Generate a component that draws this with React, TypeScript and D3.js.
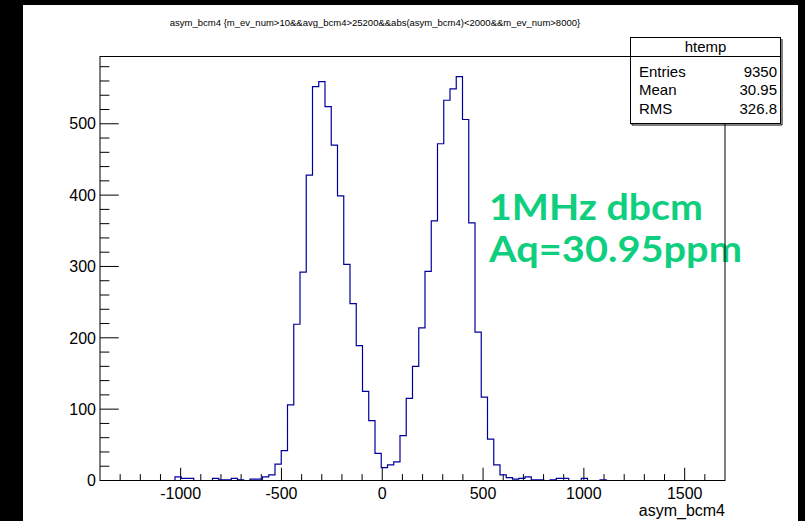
import React from "react";
import * as d3 from "d3";

const binLow = -1400;
const binHigh = 1700;
const counts: number[] = [
  0, 0, 0, 0, 0, 0, 0, 0, 0, 0,
  0, 0, 5, 3, 3, 0, 0, 0, 3, 1,
  1, 3, 1, 0, 2, 2, 5, 8, 23, 42,
  106, 219, 292, 428, 552, 559, 524, 470, 399, 303,
  248, 189, 125, 84, 38, 18, 22, 26, 63, 115,
  160, 214, 293, 364, 472, 533, 549, 566, 506, 361,
  208, 117, 58, 22, 8, 4, 2, 3, 5, 1,
  1, 0, 1, 3, 3, 0, 0, 3, 0, 0,
  1, 0, 0, 0, 0, 0, 0, 0, 0, 0,
  0, 0, 0, 0, 0, 0, 0, 0, 0, 0,
];
const xMajorTicks = [-1000, -500, 0, 500, 1000, 1500];
const yMajorTicks = [0, 100, 200, 300, 400, 500];
const titleText =
  "asym_bcm4 {m_ev_num>10&&avg_bcm4>25200&&abs(asym_bcm4)<2000&&m_ev_num>8000}";
const xAxisTitle = "asym_bcm4";
const statsName = "htemp";
const statsLabels = ["Entries", "Mean", "RMS"];
const statsValues = ["9350", "30.95", "326.8"];
const noteLines = ["1MHz dbcm", "Aq=30.95ppm"];

const W = 805;
const H = 521;
const L = 100;
const R = 725;
const T = 56.5;
const B = 480.5;
const font = "'Liberation Sans', Arial, Helvetica, sans-serif";

export default function App() {
  const nb = counts.length;
  const bw = (binHigh - binLow) / nb;
  const yMax = 1.05 * (d3.max(counts) as number);
  const x = d3.scaleLinear().domain([binLow, binHigh]).range([L, R]);
  const y = d3.scaleLinear().domain([0, yMax]).range([B, T]);

  const pts: [number, number][] = [];
  counts.forEach((c, i) => {
    pts.push([x(binLow + i * bw), y(c)]);
    pts.push([x(binLow + (i + 1) * bw), y(c)]);
  });
  const path = d3.line()(pts) || "";

  const xMinor = d3.range(-1300, 1700, 100).filter((v) => v % 500 !== 0);
  const yMinor = d3.range(20, yMax, 20).filter((v) => v % 100 !== 0);
  const xTickLen = 0.03 * (B - T);
  const yTickLen = 0.03 * (R - L);

  return (
    <svg
      width={W}
      height={H}
      style={{ position: "absolute", left: 0, top: 0, display: "block" }}
    >
      <rect x={0} y={0} width={W} height={H} fill="#000" />
      <rect x={23} y={5} width={775} height={516} fill="#fff" />

      <text
        x={375}
        y={26}
        fontFamily={font}
        fontSize={9.5}
        textAnchor="middle"
        fill="#000"
      >
        {titleText}
      </text>

      {/* ticks */}
      <g stroke="#000" strokeWidth={1}>
        {xMajorTicks.map((v) => (
          <line key={"xm" + v} x1={x(v)} x2={x(v)} y1={B} y2={B - xTickLen} />
        ))}
        {xMinor.map((v) => (
          <line key={"xn" + v} x1={x(v)} x2={x(v)} y1={B} y2={B - xTickLen / 2} />
        ))}
        {yMajorTicks.map((v) => (
          <line key={"ym" + v} x1={L} x2={L + yTickLen} y1={y(v)} y2={y(v)} />
        ))}
        {yMinor.map((v) => (
          <line key={"yn" + v} x1={L} x2={L + yTickLen / 2} y1={y(v)} y2={y(v)} />
        ))}
      </g>

      <path d={path} fill="none" stroke="#000099" strokeWidth={1.2} />

      {noteLines.map((t, i) => (
        <text
          key={t}
          x={489}
          y={219.5 + i * 42.3}
          fontFamily="Lato, 'Open Sans', sans-serif"
          fontWeight={700}
          fontSize={36}
          fill="#0fcf7f"
          textLength={i === 0 ? 214 : 253}
          lengthAdjust="spacingAndGlyphs"
        >
          {t}
        </text>
      ))}

      <rect x={L} y={T} width={R - L} height={B - T} fill="none" stroke="#000" strokeWidth={1} />

      {xMajorTicks.map((v) => (
        <text
          key={"xl" + v}
          x={x(v)}
          y={499}
          fontFamily={font}
          fontSize={16}
          textAnchor="middle"
          fill="#000"
        >
          {v}
        </text>
      ))}
      {yMajorTicks.map((v) => (
        <text
          key={"yl" + v}
          x={96}
          y={y(v) + 5.7}
          fontFamily={font}
          fontSize={16}
          textAnchor="end"
          fill="#000"
        >
          {v}
        </text>
      ))}
      <text x={725} y={516} fontFamily={font} fontSize={16} textAnchor="end" fill="#000">
        {xAxisTitle}
      </text>

      {/* stats box */}
      <line x1={632} x2={632} y1={39} y2={125} stroke="#000" />
      <line x1={632} x2={782} y1={125} y2={125} stroke="#000" />
      <line x1={782} x2={782} y1={39} y2={125} stroke="#000" />
      <rect x={630.5} y={37.5} width={150} height={86} fill="#fff" stroke="#000" strokeWidth={1} />
      <line x1={630.5} x2={780.5} y1={56.5} y2={56.5} stroke="#000" />
      <text x={705.5} y={52} fontFamily={font} fontSize={15} textAnchor="middle" fill="#000">
        {statsName}
      </text>
      {statsLabels.map((l, i) => (
        <g key={l}>
          <text x={639} y={77 + i * 18.3} fontFamily={font} fontSize={15} fill="#000">
            {l}
          </text>
          <text
            x={777}
            y={77 + i * 18.3}
            fontFamily={font}
            fontSize={15}
            textAnchor="end"
            fill="#000"
          >
            {statsValues[i]}
          </text>
        </g>
      ))}
    </svg>
  );
}
